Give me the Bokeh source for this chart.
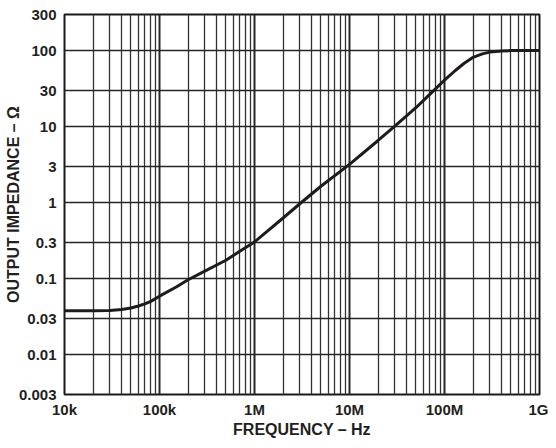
from bokeh.plotting import figure
from bokeh.models import FixedTicker
from bokeh.embed import file_html
from bokeh.resources import INLINE

# Output impedance vs frequency
freq_hz = [1e4, 2e4, 3e4, 4e4, 5e4, 6e4, 7e4, 8e4, 1e5, 1.5e5, 2e5, 3e5, 5e5, 7e5,
           1e6, 2e6, 3e6, 5e6, 1e7, 2e7, 3e7, 5e7, 7.5e7, 1e8, 1.3e8, 1.6e8, 2e8,
           2.5e8, 3e8, 4e8, 5e8, 7e8, 1e9]
impedance_ohm = [0.038, 0.038, 0.0382, 0.0393, 0.0412, 0.0438, 0.0468, 0.050, 0.059,
                 0.078, 0.097, 0.126, 0.175, 0.23, 0.305, 0.63, 0.97, 1.65, 3.2, 6.6,
                 10.2, 17.8, 29.0, 41.0, 55.0, 68.0, 82.0, 91.0, 96.0, 99.5, 100.5,
                 101.0, 101.0]

x_major = [1e4, 1e5, 1e6, 1e7, 1e8, 1e9]
x_labels = ["10k", "100k", "1M", "10M", "100M", "1G"]
x_minor = [m * 10 ** d for d in range(4, 9) for m in range(2, 10)]
y_ticks = [0.003, 0.01, 0.03, 0.1, 0.3, 1, 3, 10, 30, 100, 300]
y_labels = ["0.003", "0.01", "0.03", "0.1", "0.3", "1", "3", "10", "30", "100", "300"]

FONT = "Liberation Sans"

p = figure(width=548, height=440, x_axis_type="log", y_axis_type="log",
           x_range=(1e4, 1e9), y_range=(0.003, 300),
           output_backend="svg", toolbar_location=None,
           min_border_left=64, min_border_right=9, min_border_top=14,
           min_border_bottom=43,
           background_fill_color="white", border_fill_color="white")

p.xaxis.ticker = FixedTicker(ticks=x_major, minor_ticks=x_minor)
p.xaxis.major_label_overrides = dict(zip(x_major, x_labels))
p.yaxis.ticker = FixedTicker(ticks=y_ticks)
p.yaxis.major_label_overrides = dict(zip([float(v) for v in y_ticks], y_labels))

p.xaxis.axis_label = "FREQUENCY – Hz"
p.yaxis.axis_label = "OUTPUT IMPEDANCE – Ω"

for ax in (p.xaxis, p.yaxis):
    ax.axis_line_color = None
    ax.major_tick_line_color = None
    ax.minor_tick_line_color = None
    ax.major_tick_out = 0
    ax.major_tick_in = 0
    ax.minor_tick_out = 0
    ax.minor_tick_in = 0
    ax.major_label_text_font = FONT
    ax.major_label_text_font_style = "bold"
    ax.major_label_text_font_size = "15px"
    ax.major_label_text_color = "#231f20"
    ax.axis_label_text_font = FONT
    ax.axis_label_text_font_style = "bold"
    ax.axis_label_text_font_size = "16px"
    ax.axis_label_text_color = "#231f20"

p.xaxis.major_label_standoff = 6
p.xaxis.axis_label_standoff = 0
p.yaxis.major_label_standoff = 8
p.yaxis.axis_label_standoff = -6

p.xgrid.grid_line_color = "#262626"
p.xgrid.grid_line_width = 2
p.xgrid.minor_grid_line_color = "#333333"
p.xgrid.minor_grid_line_width = 1.3
p.ygrid.grid_line_color = "#262626"
p.ygrid.grid_line_width = 1.5

p.outline_line_color = "#1a1a1a"
p.outline_line_width = 2

p.line(freq_hz, impedance_ohm, line_width=3, line_color="#1f1b1c")

open("out.html", "w").write(file_html(p, INLINE))
